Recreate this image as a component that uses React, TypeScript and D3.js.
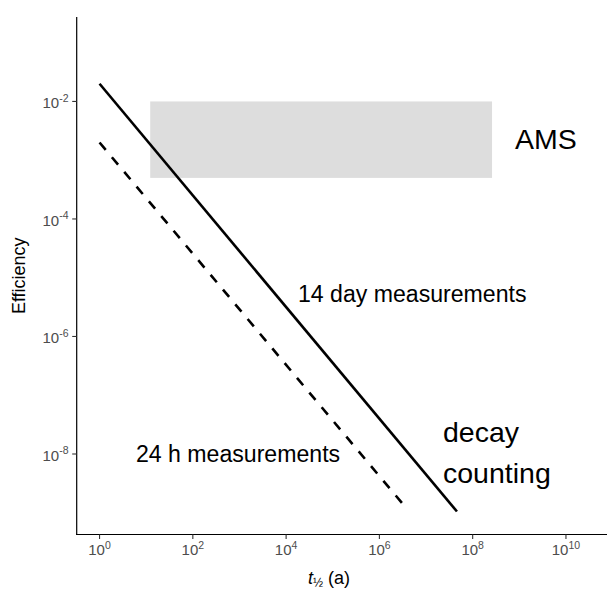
import React from "react";
import * as d3 from "d3";

// Data
const solidLineX = [1, 4.6e7];
const solidLineY = [2.0e-2, 1.05e-9];
const dashedLineX = [1, 3.2e6];
const dashedLineY = [2.0e-3, 1.4e-9];
const amsBoxX = [12.2, 2.6e8];
const amsBoxY = [5.0e-4, 1.0e-2];
const xTickExps = [0, 2, 4, 6, 8, 10];
const yTickExps = [-2, -4, -6, -8];
const xDomainExp = [-0.49, 10.88];
const yDomainExp = [-9.37, -0.563];

const W = 608;
const H = 590;
const left = 76.7;
const right = 607;
const top = 17;
const bottom = 534.5;

const FONT = "'Liberation Sans', Arial, Helvetica, sans-serif";

export default function App() {
  const x = d3
    .scaleLog()
    .domain([Math.pow(10, xDomainExp[0]), Math.pow(10, xDomainExp[1])])
    .range([left, right]);
  const y = d3
    .scaleLog()
    .domain([Math.pow(10, yDomainExp[0]), Math.pow(10, yDomainExp[1])])
    .range([bottom, top]);

  const line = d3
    .line<[number, number]>()
    .x((d) => x(d[0]))
    .y((d) => y(d[1]));

  const solid = line(solidLineX.map((v, i) => [v, solidLineY[i]] as [number, number])) || "";
  const dashed = line(dashedLineX.map((v, i) => [v, dashedLineY[i]] as [number, number])) || "";

  return (
    <svg
      width={W}
      height={H}
      style={{ position: "absolute", left: 0, top: 0, display: "block" }}
      fontFamily={FONT}
    >
      <rect x={0} y={0} width={W} height={H} fill="#ffffff" />
      {/* AMS band */}
      <rect
        x={x(amsBoxX[0])}
        y={y(amsBoxY[1])}
        width={x(amsBoxX[1]) - x(amsBoxX[0])}
        height={y(amsBoxY[0]) - y(amsBoxY[1])}
        fill="#dddddd"
      />
      {/* lines */}
      <path d={solid} stroke="#000" strokeWidth={2.6} fill="none" />
      <path d={dashed} stroke="#000" strokeWidth={2.6} fill="none" strokeDasharray="9.6,9.6" />

      {/* annotations */}
      <text x={515} y={149} fontSize={28.5} fill="#000">AMS</text>
      <text x={298} y={302.3} fontSize={23.1} fill="#000">14 day measurements</text>
      <text x={136} y={462.3} fontSize={23.1} fill="#000">24 h measurements</text>
      <text x={443} y={441.7} fontSize={28.5} fill="#000">decay</text>
      <text x={443} y={483.3} fontSize={28.5} fill="#000">counting</text>

      {/* axes */}
      <line x1={left} x2={left} y1={top} y2={bottom + 0.6} stroke="#000" strokeWidth={1.2} />
      <line x1={left - 0.6} x2={right} y1={bottom} y2={bottom} stroke="#000" strokeWidth={1.2} />

      {xTickExps.map((e) => {
        const px = x(Math.pow(10, e));
        return (
          <g key={"x" + e}>
            <line x1={px} x2={px} y1={bottom} y2={bottom + 4.5} stroke="#333" strokeWidth={1.1} />
            <text x={px} y={555} fontSize={15} fill="#4d4d4d" textAnchor="middle">
              10
              <tspan fontSize={10.5} dy={-6.5}>{String(e)}</tspan>
            </text>
          </g>
        );
      })}

      {yTickExps.map((e) => {
        const py = y(Math.pow(10, e));
        return (
          <g key={"y" + e}>
            <line x1={left - 4.5} x2={left} y1={py} y2={py} stroke="#333" strokeWidth={1.1} />
            <text x={68.5} y={py + 7} fontSize={15} fill="#4d4d4d" textAnchor="end">
              10
              <tspan fontSize={10.5} dy={-6.5}>{String(e)}</tspan>
            </text>
          </g>
        );
      })}

      {/* axis titles */}
      <text
        transform={`translate(25, ${(top + bottom) / 2}) rotate(-90)`}
        fontSize={18}
        fill="#000"
        textAnchor="middle"
      >
        Efficiency
      </text>
      <text x={308} y={584} fontSize={18} fill="#000">
        <tspan fontStyle="italic">t</tspan>
        <tspan fontSize={12} dy={3}>½</tspan>
        <tspan dy={-3}> (a)</tspan>
      </text>
    </svg>
  );
}
